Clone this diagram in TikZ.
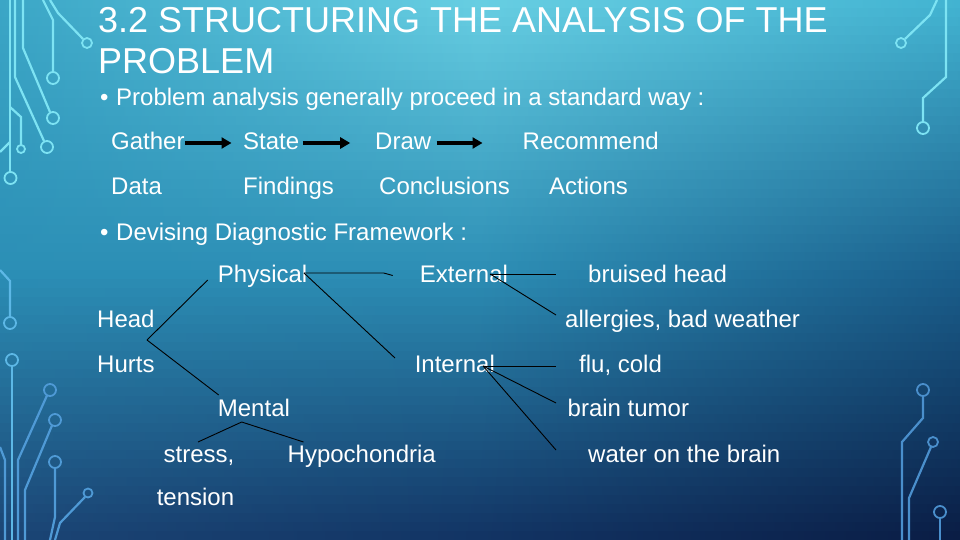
\documentclass[tikz,border=0pt]{standalone}
\usepackage{fontspec}
\setmainfont{Liberation Sans}
\usepackage{tikz}
\usetikzlibrary{arrows.meta, calc}

\definecolor{bgTL}{HTML}{3BA6C6}
\definecolor{bgTM}{HTML}{67CEE2}
\definecolor{bgTR}{HTML}{42B3D1}
\definecolor{bgML}{HTML}{2B8EB5}
\definecolor{bgMM}{HTML}{2C8DB4}
\definecolor{bgMR}{HTML}{1A5E8B}
\definecolor{bgBL}{HTML}{1B4575}
\definecolor{bgBM}{HTML}{123464}
\definecolor{bgBR}{HTML}{0A1D45}
\definecolor{wireTop}{HTML}{7DE3F3}
\definecolor{wireMid}{HTML}{5DB8E6}
\definecolor{wireLow}{HTML}{4F9AD6}
\definecolor{wireRight}{HTML}{4A8FCC}

\begin{document}
\begin{tikzpicture}[
		x=1pt, y=-1pt,
		term/.style={
			anchor=base west,
			inner sep=0pt,
			text=white,
			font=\fontsize{24}{28}\selectfont
		},
		heading/.style={term, font=\fontsize{36}{40}\selectfont},
		link/.style={draw=black, line width=0.9pt},
		flow/.style={-{Triangle[length=10pt,width=11pt]}, line width=4.6pt, black},
		wire/.style={line width=2.2pt},
		pad/.style={line width=1.8pt}
		]
		
		\useasboundingbox (0,0) rectangle (960,540);
		
		% Background
		\foreach \i in {0,...,59} {
			\ifnum\i<30
				\pgfmathsetmacro{\p}{\i*100/30}
				\colorlet{sL}{bgML!\p!bgTL}
				\colorlet{sM}{bgMM!\p!bgTM}
				\colorlet{sR}{bgMR!\p!bgTR}
			\else
				\pgfmathsetmacro{\p}{(\i-30)*100/29}
				\colorlet{sL}{bgBL!\p!bgML}
				\colorlet{sM}{bgBM!\p!bgMM}
				\colorlet{sR}{bgBR!\p!bgMR}
			\fi
			\shade[left color=sL, right color=sR, middle color=sM] (0,\i*9) rectangle (960,\i*9+9.6);
		}
		
		% Circuit traces, left
		\draw[wire, wireTop] (10,0) -- (10,172);
		\draw[pad, wireTop] (10.5,178) circle (6);
		\draw[wire, wireTop] (15,0) -- (15,77) -- (44,141);
		\draw[pad, wireTop] (47,147) circle (6);
		\draw[wire, wireTop] (23,0) -- (23,48) -- (50,112);
		\draw[pad, wireTop] (53,118) circle (6);
		\draw[wire, wireTop] (43,0) -- (53,20) -- (53,72);
		\draw[pad, wireTop] (53,78) circle (6);
		\draw[wire, wireTop] (50,0) -- (58,13) -- (83,39);
		\draw[pad, wireTop] (87,43) circle (5);
		\draw[wire, wireTop] (10,107) -- (21,117) -- (21,145);
		\draw[pad, wireTop] (21,149) circle (4);
		\draw[wire, wireTop] (0,152) -- (10,142);
		
		\draw[wire, wireMid] (0,270) -- (10,281) -- (10,317);
		\draw[pad, wireMid] (10,323) circle (6);
		\draw[wire, wireMid] (12,366) -- (12,540);
		\draw[pad, wireMid] (12,360) circle (6);
		\draw[wire, wireLow] (47,395.5) -- (18,460) -- (18,540);
		\draw[pad, wireLow] (50,390) circle (6);
		\draw[wire, wireLow] (52,425.5) -- (25,490) -- (25,540);
		\draw[pad, wireLow] (55,420) circle (6);
		\draw[wire, wireLow] (55,468) -- (55,517) -- (50,540);
		\draw[pad, wireLow] (55,462) circle (6);
		\draw[wire, wireLow] (85,497) -- (60,523) -- (55,540);
		\draw[pad, wireLow] (88,493) circle (4.5);
		\draw[wire, wireLow] (0,447) -- (5,460) -- (5,540);
		
		% Circuit traces, right
		\draw[wire, wireTop] (937,0) -- (930,15) -- (905,39);
		\draw[pad, wireTop] (901,43) circle (5);
		\draw[wire, wireTop] (946,0) -- (946,77) -- (923,98) -- (923,122);
		\draw[pad, wireTop] (923,128) circle (6);
		\draw[wire, wireRight] (923,396) -- (923,418) -- (902,442) -- (902,540);
		\draw[pad, wireRight] (923,390) circle (6);
		\draw[wire, wireRight] (931,447) -- (909,498) -- (909,540);
		\draw[pad, wireRight] (933,442) circle (5);
		\draw[wire, wireRight] (940,518) -- (940,540);
		\draw[pad, wireRight] (940,512) circle (6);
		
		% Title and points
		\node[heading] (title) at (98,33) {3.2 STRUCTURING THE ANALYSIS OF THE};
		\node[heading] (title2) at (98,74) {PROBLEM};
		\node[term] (point1) at (100,106) {\makebox[16pt][l]{\textbullet}Problem analysis generally proceed in a standard way :};
		\node[term] (point2) at (100,240) {\makebox[16pt][l]{\textbullet}Devising Diagnostic Framework :};
		
		% Steps
		\node[term] (gather) at (111,150) {Gather};
		\node[term] (state) at (243,150) {State};
		\node[term] (drawstep) at (375,150) {Draw};
		\node[term] (recommend) at (522.5,150) {Recommend};
		\node[term] (data) at (111,194) {Data};
		\node[term] (findings) at (243,194) {Findings};
		\node[term] (conclusions) at (379,194) {Conclusions};
		\node[term] (actions) at (549,194) {Actions};
		
		\draw[flow] ($(gather.base east)+(0,-7)$) -- ($(state.base west)+(-11.5,-7)$);
		\draw[flow] ($(state.base east)+(3.4,-7)$) -- ($(drawstep.base west)+(-24.8,-7)$);
		\draw[flow] ($(drawstep.base east)+(5.3,-7)$) -- ($(recommend.base west)+(-40,-7)$);
		
		% Framework
		\node[term] (head) at (97,327) {Head};
		\node[term] (hurts) at (97,372) {Hurts};
		\node[term] (physical) at (217.7,282) {Physical};
		\node[term] (mental) at (217.7,416) {Mental};
		\node[term] (external) at (419.7,282) {External};
		\node[term] (internal) at (414.6,372) {Internal};
		\node[term] (stress) at (163.5,462) {stress,};
		\node[term] (tension) at (156.6,505) {tension};
		\node[term] (hypo) at (287.5,462) {Hypochondria};
		\node[term] (bruised) at (588,282) {bruised head};
		\node[term] (allergies) at (565,327) {allergies, bad weather};
		\node[term] (flu) at (579,372) {flu, cold};
		\node[term] (tumor) at (567.5,416) {brain tumor};
		\node[term] (water) at (588,462) {water on the brain};
		
		\coordinate (split) at (147,340);
		\coordinate (extfan) at ($(external.base east)+(-18,-8)$);
		\coordinate (intfan) at ($(internal.base east)+(-12,-6)$);
		\coordinate (menfan) at ($(mental.base west)+(24,6)$);
		
		\draw[link] (split) -- ($(physical.base west)+(-10,-2)$);
		\draw[link] (split) -- ($(mental.base west)+(1,-21)$);
		\draw[link] ($(physical.base east)+(-3.5,-9)$) -- ($(external.base west)+(-36,-9)$) -- ($(external.base west)+(-27,-6.5)$);
		\draw[link] ($(physical.base east)+(-3.5,-9)$) -- ($(internal.base west)+(-19.6,-14)$);
		\draw[link] (extfan) -- ($(bruised.base west)+(-32,-8)$);
		\draw[link] (extfan) -- ($(allergies.base west)+(-9,-12)$);
		\draw[link] (intfan) -- ($(flu.base west)+(-23,-6)$);
		\draw[link] (intfan) -- ($(tumor.base west)+(-11.5,-13)$);
		\draw[link] (intfan) -- ($(water.base west)+(-32,-12)$);
		\draw[link] (menfan) -- ($(stress.base west)+(34.5,-20)$);
		\draw[link] (menfan) -- ($(hypo.base west)+(16,-20)$);
		
	\end{tikzpicture}
\end{document}
